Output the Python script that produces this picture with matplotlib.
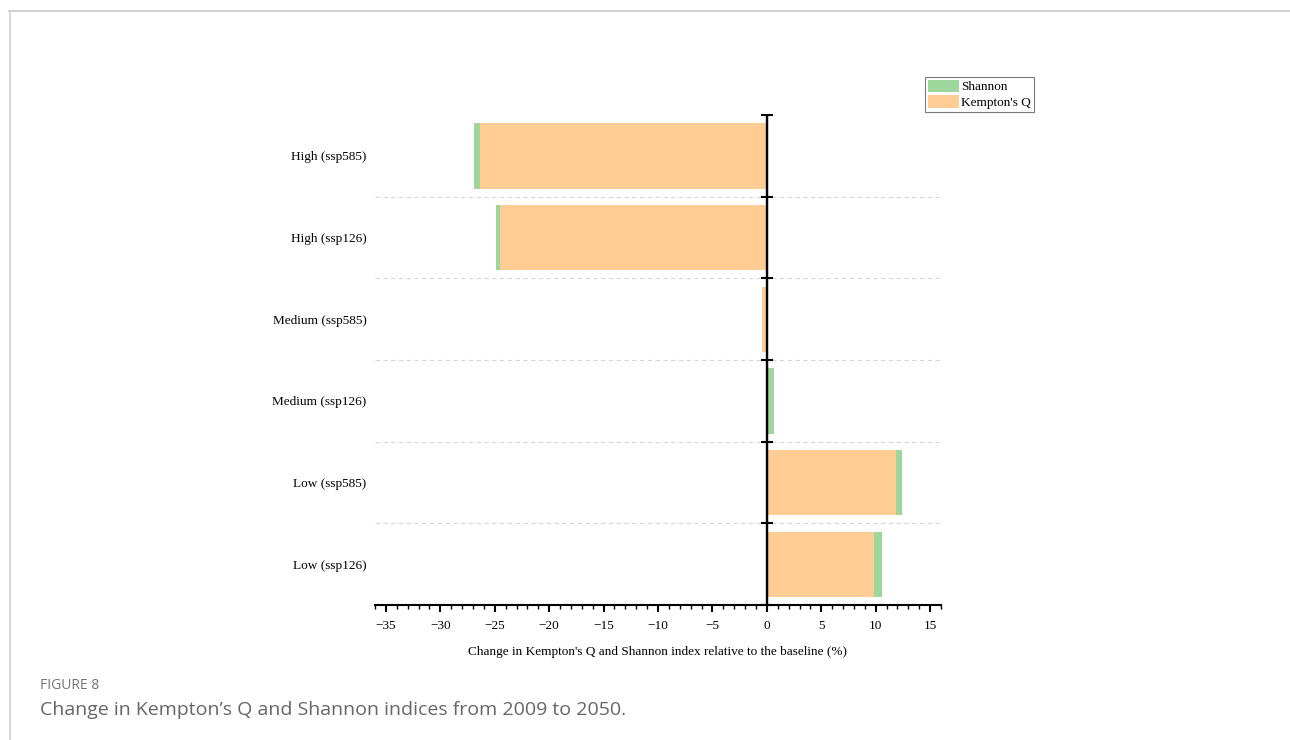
import numpy as np
import matplotlib
matplotlib.use("Agg")
import matplotlib.pyplot as plt
from matplotlib.lines import Line2D
from matplotlib.ticker import MultipleLocator

# Scenario categories, listed from top to bottom
categories = ["High (ssp585)", "High (ssp126)", "Medium (ssp585)",
              "Medium (ssp126)", "Low (ssp585)", "Low (ssp126)"]
# Change relative to the baseline (%)
kempton_q = [-26.35, -24.5, -0.45, 0.05, 11.9, 9.8]
shannon = [-0.55, -0.35, 0.15, 0.6, 0.55, 0.8]

series_names = ["Shannon", "Kempton's Q"]
xlabel = "Change in Kempton's Q and Shannon index relative to the baseline (%)"
caption_head = "FIGURE 8"
caption_text = "Change in Kempton\u2019s Q and Shannon indices from 2009 to 2050."

c_shannon = "#9ED79B"
c_kempton = "#FFCD94"

serif = ["Liberation Serif", "DejaVu Serif"]
plt.rcParams["font.family"] = serif
plt.rcParams["axes.unicode_minus"] = True

fig = plt.figure(figsize=(12.9, 7.4), dpi=100)
ax = fig.add_axes([375 / 1290, 1 - 605 / 740, 566 / 1290, 490 / 740])

n = len(categories)
y = np.arange(n)[::-1]
kq = np.array(kempton_q)
sh = np.array(shannon)
# Diverging stack: Shannon continues beyond Kempton's Q when both share a sign
sh_left = np.where(np.sign(sh) == np.sign(kq), kq, 0.0)

ax.barh(y, kq, height=0.8, color=c_kempton, zorder=2, label=series_names[1])
ax.barh(y, sh, left=sh_left, height=0.8, color=c_shannon, zorder=2,
        label=series_names[0])

xmin, xmax = -36, 16
ax.set_xlim(xmin, xmax)
ax.set_ylim(-0.5, n - 0.5)

# Dashed separators between categories
bounds = np.arange(n + 1) - 0.5
for b in bounds[1:-1]:
    ax.axhline(b, color="#d6d6d6", lw=0.8, ls=(0, (4, 3)), zorder=1)

for side in ["top", "right", "left"]:
    ax.spines[side].set_visible(False)
ax.spines["bottom"].set_linewidth(1.5)

ax.xaxis.set_major_locator(MultipleLocator(5))
ax.xaxis.set_minor_locator(MultipleLocator(1))
ax.tick_params(axis="x", which="major", direction="out", length=5, width=1.5,
               labelsize=9.5, pad=6)
ax.tick_params(axis="x", which="minor", direction="out", length=3, width=1.0)

ax.set_yticks(y)
ax.set_yticklabels(categories)
ax.tick_params(axis="y", which="both", length=0, labelsize=9.5, pad=6)

ax.set_xlabel(xlabel, fontsize=9.5, labelpad=10)

# Vertical axis through zero with category-boundary ticks
ax.axvline(0, color="black", lw=1.7, zorder=4)
zero_frac = (0 - xmin) / (xmax - xmin)
sec = ax.secondary_yaxis(zero_frac)
sec.set_yticks(bounds)
sec.set_yticklabels([])
sec.tick_params(direction="inout", length=9, width=1.5)
sec.spines["left"].set_linewidth(1.7)
sec.set_zorder(5)

handles, labels = ax.get_legend_handles_labels()
leg = fig.legend(handles[::-1], labels[::-1], loc="upper left",
                 bbox_to_anchor=(925 / 1290, 1 - 77 / 740),
                 bbox_transform=fig.transFigure, fontsize=9.5, frameon=True,
                 fancybox=False, edgecolor="#7a7a7a", framealpha=1,
                 handlelength=2.4, handleheight=1.1, handletextpad=0.15,
                 borderpad=0.2, labelspacing=0.15, borderaxespad=0)
leg.get_frame().set_linewidth(0.8)

# Caption
fig.text(40 / 1290, 1 - 689 / 740, caption_head, family="Open Sans",
         fontsize=10, color="#747474", va="baseline")
fig.text(40 / 1290, 1 - 715 / 740, caption_text, family="Open Sans",
         fontsize=14, color="#666666", va="baseline")

# Card border
fig.add_artist(Line2D([9 / 1290, 1], [1 - 10.5 / 740, 1 - 10.5 / 740],
                      transform=fig.transFigure, color="#d2d2d2", lw=1.5))
fig.add_artist(Line2D([9.5 / 1290, 9.5 / 1290], [0, 1 - 10.5 / 740],
                      transform=fig.transFigure, color="#d2d2d2", lw=1.2))

fig.savefig("out.png", dpi=100)
